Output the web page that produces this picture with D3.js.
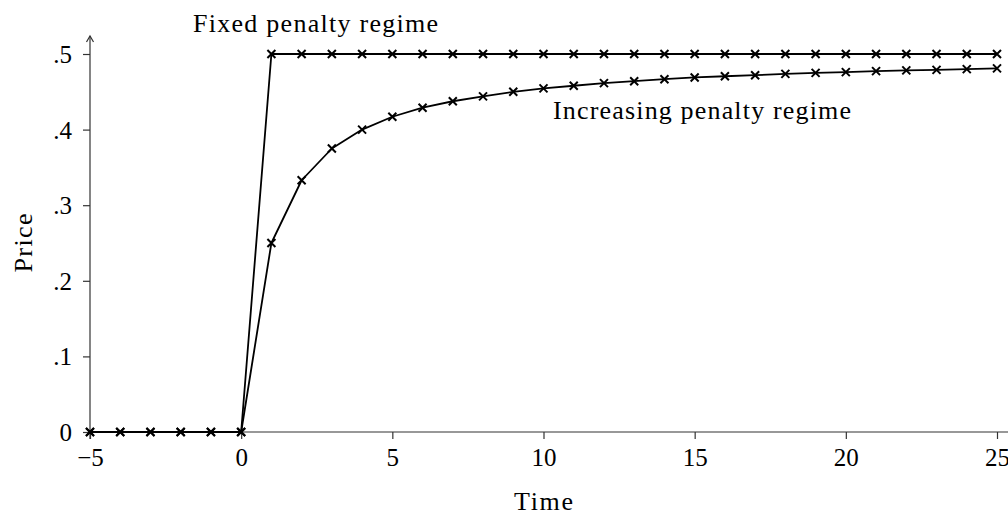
<!DOCTYPE html>
<html>
<head>
<meta charset="utf-8">
<script src="https://cdn.jsdelivr.net/npm/d3@7"></script>
<style>
  html, body { margin: 0; padding: 0; background: #fff; }
  svg { display: block; }
  text { font-family: "Liberation Serif", "DejaVu Serif", serif; fill: #000; }
</style>
</head>
<body>
<svg id="chart" width="1008" height="517"></svg>
<script>
// ---- data ----
const time = [-5,-4,-3,-2,-1,0,1,2,3,4,5,6,7,8,9,10,11,12,13,14,15,16,17,18,19,20,21,22,23,24,25];
const fixedPenalty = [0,0,0,0,0,0,0.5,0.5,0.5,0.5,0.5,0.5,0.5,0.5,0.5,0.5,0.5,0.5,0.5,0.5,0.5,0.5,0.5,0.5,0.5,0.5,0.5,0.5,0.5,0.5,0.5];
const increasingPenalty = [0,0,0,0,0,0,0.25,0.333,0.375,0.4,0.417,0.429,0.4375,0.444,0.45,0.4545,0.458,0.4615,0.464,0.4667,0.469,0.4706,0.472,0.4737,0.475,0.476,0.4773,0.4783,0.479,0.48,0.481];
const xTicks = [-5,0,5,10,15,20,25];
const xTickLabels = ["\u22125","0","5","10","15","20","25"];
const yTicks = [0,0.1,0.2,0.3,0.4,0.5];
const yTickLabels = ["0",".1",".2",".3",".4",".5"];
const seriesLabels = ["Fixed penalty regime","Increasing penalty regime"];

// ---- layout ----
const svg = d3.select("#chart");
const x = d3.scaleLinear().domain([-5,25]).range([90,997]);
const y = d3.scaleLinear().domain([0,0.5]).range([432,54]);
const axisColor = "#333";

// x axis
const xAxis = d3.axisBottom(x).tickValues(xTicks).tickSize(7).tickSizeOuter(0)
  .tickFormat((d,i)=>xTickLabels[i]);
const gx = svg.append("g").attr("transform",`translate(0,${y(0)})`).call(xAxis);
gx.select(".domain").remove();
gx.append("line").attr("x1",x(-5)).attr("x2",1010).attr("y1",0).attr("y2",0)
  .attr("stroke",axisColor).attr("stroke-width",1.2);
gx.selectAll(".tick line").attr("stroke",axisColor).attr("stroke-width",1.2);
gx.selectAll(".tick text").attr("y",34).attr("dy",0).attr("font-size",25)
  .style("font-family",'"Liberation Serif", serif').attr("fill","#000");

// y axis
const yAxis = d3.axisLeft(y).tickValues(yTicks).tickSize(7).tickSizeOuter(0)
  .tickFormat((d,i)=>yTickLabels[i]);
const gy = svg.append("g").attr("transform",`translate(${x(-5)},0)`).call(yAxis);
gy.select(".domain").remove();
gy.append("line").attr("x1",0).attr("x2",0).attr("y1",y(0)+7).attr("y2",36)
  .attr("stroke",axisColor).attr("stroke-width",1.2);
gy.append("path").attr("d","M-3.5,42 L0,36 L3.5,42").attr("fill","none")
  .attr("stroke",axisColor).attr("stroke-width",1.2);
gy.selectAll(".tick line").attr("stroke",axisColor).attr("stroke-width",1.2);
gy.selectAll(".tick text").attr("x",-18).attr("dy","0.34em").attr("font-size",25)
  .style("font-family",'"Liberation Serif", serif').attr("fill","#000");

// axis titles
svg.append("text").attr("x",x(10)).attr("y",510).attr("text-anchor","middle")
  .attr("font-size",26).attr("textLength",59).attr("lengthAdjust","spacing").text("Time");
svg.append("text").attr("transform",`translate(32,${y(0.25)}) rotate(-90)`)
  .attr("text-anchor","middle").attr("font-size",26)
  .attr("textLength",59).attr("lengthAdjust","spacing").text("Price");

// series
const line = d3.line().x(d=>x(d[0])).y(d=>y(d[1]));
const series = [fixedPenalty, increasingPenalty];
series.forEach(vals=>{
  const pts = time.map((t,i)=>[t, vals[i]]);
  svg.append("path").datum(pts).attr("d",line).attr("fill","none")
    .attr("stroke","#000").attr("stroke-width",1.8).attr("stroke-linejoin","round");
  svg.append("g").selectAll("path").data(pts).join("path")
    .attr("transform",d=>`translate(${x(d[0])},${y(d[1])})`)
    .attr("d","M-4,-4L4,4M-4,4L4,-4").attr("stroke","#000").attr("stroke-width",2);
});

// series labels
svg.append("text").attr("x",193).attr("y",32).attr("font-size",26)
  .attr("textLength",245).attr("lengthAdjust","spacing").text(seriesLabels[0]);
svg.append("text").attr("x",553).attr("y",119).attr("font-size",26)
  .attr("textLength",298).attr("lengthAdjust","spacing").text(seriesLabels[1]);
</script>
</body>
</html>
